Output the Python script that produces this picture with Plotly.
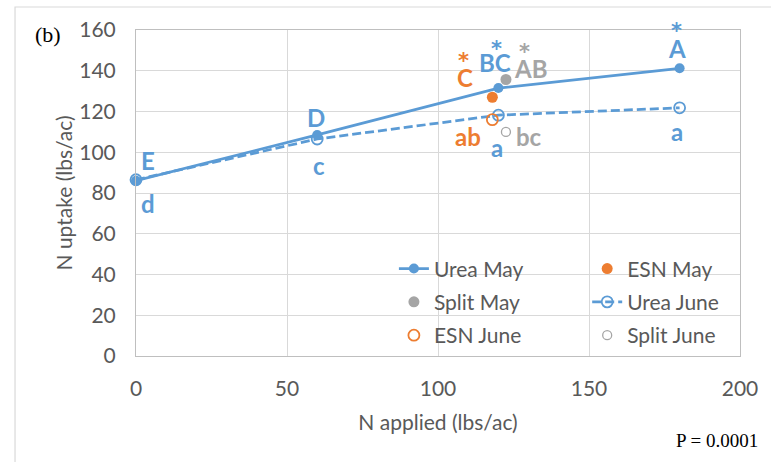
import plotly.graph_objects as go

# ---- data ----
n_rates = [0, 60, 120, 180]
urea_may = [86, 108.5, 131.5, 141.2]
urea_june = [86.5, 106.5, 118.2, 121.8]
esn_may_x, esn_may_y = [118], [127]
split_may_x, split_may_y = [122.5], [135.7]
esn_june_x, esn_june_y = [118], [116]
split_june_x, split_june_y = [122.5], [110]

x_ticks = [0, 50, 100, 150, 200]
y_ticks = [0, 20, 40, 60, 80, 100, 120, 140, 160]

# letter labels: (x, y, text, colour-key)
labels = [
    (4, 96, "E", "blue"), (4, 75, "d", "blue"),
    (59.5, 117, "D", "blue"), (60.5, 93.5, "c", "blue"),
    (119, 144, "BC", "blue"), (119.5, 102.5, "a", "blue"),
    (109, 136.5, "C", "orange"), (110, 107.5, "ab", "orange"),
    (130.5, 141, "AB", "gray"), (130, 107.5, "bc", "gray"),
    (179, 151, "A", "blue"), (179, 110, "a", "blue"),
]
stars = [(119.5, 150.7, "blue"), (108.5, 145, "orange"),
         (128.8, 149.3, "gray"), (179, 159.6, "blue")]

BLUE = "#5B9BD5"
ORANGE = "#ED7D31"
GRAY = "#A5A5A5"
cols = {"blue": BLUE, "orange": ORANGE, "gray": GRAY}
TXT = "#595959"
FONT = "Lato"

fig = go.Figure()
fig.add_trace(go.Scatter(x=n_rates, y=urea_june, name="Urea June", mode="lines+markers",
                         line=dict(color=BLUE, width=2.75, dash="9px,4px"),
                         marker=dict(symbol="circle-open", size=11, color=BLUE, line=dict(width=1.8)),
                         legend="legend2", legendgroup="g4", legendrank=4, cliponaxis=False))
fig.add_trace(go.Scatter(x=n_rates, y=urea_may, name="Urea May", mode="lines+markers",
                         line=dict(color=BLUE, width=2.75),
                         marker=dict(symbol="circle", size=10, color=BLUE),
                         legend="legend", legendgroup="g1", legendrank=1, cliponaxis=False))
fig.add_trace(go.Scatter(x=esn_may_x, y=esn_may_y, name="ESN May", mode="markers",
                         marker=dict(symbol="circle", size=11, color=ORANGE),
                         legend="legend2", legendgroup="g2", legendrank=2))
fig.add_trace(go.Scatter(x=split_may_x, y=split_may_y, name="Split May", mode="markers",
                         marker=dict(symbol="circle", size=11, color=GRAY),
                         legend="legend", legendgroup="g3", legendrank=3))
fig.add_trace(go.Scatter(x=esn_june_x, y=esn_june_y, name="ESN June", mode="markers",
                         marker=dict(symbol="circle-open", size=11, color=ORANGE, line=dict(width=1.8)),
                         legend="legend", legendgroup="g5", legendrank=5))
fig.add_trace(go.Scatter(x=split_june_x, y=split_june_y, name="Split June", mode="markers",
                         marker=dict(symbol="circle-open", size=9, color=GRAY, line=dict(width=1.3)),
                         legend="legend2", legendgroup="g6", legendrank=6))

ann = []
for x, y, t, c in labels:
    ann.append(dict(x=x, y=y, xref="x", yref="y", text=f"<b>{t}</b>", showarrow=False,
                    font=dict(family=FONT, size=24, color=cols[c])))
for x, y, c in stars:
    ann.append(dict(x=x, y=y, xref="x", yref="y", text="<b>*</b>", showarrow=False,
                    font=dict(family="DejaVu Sans", size=21, color=cols[c])))
ann.append(dict(x=-0.146, y=0.985, xref="paper", yref="paper", text="(b)", showarrow=False,
                xanchor="center", yanchor="middle",
                font=dict(family="Liberation Serif", size=22, color="black")))
ann.append(dict(x=1.033, y=-0.258, xref="paper", yref="paper", text="P = 0.0001", showarrow=False,
                xanchor="right", yanchor="middle",
                font=dict(family="Liberation Serif", size=19, color="black")))

legend_common = dict(bgcolor="rgba(0,0,0,0)", font=dict(family=FONT, size=21, color=TXT),
                     yanchor="top", xanchor="left", tracegroupgap=3, itemsizing="trace",
                     traceorder="grouped")

fig.update_layout(
    width=771, height=462,
    margin=dict(l=136, r=31, t=30, b=106, autoexpand=False),
    paper_bgcolor="white", plot_bgcolor="white",
    font=dict(family=FONT, size=21, color=TXT),
    showlegend=True,
    legend=dict(x=0.427, y=0.33, **legend_common),
    legend2=dict(x=0.747, y=0.33, **legend_common),
    annotations=ann,
    shapes=[
        dict(type="rect", xref="paper", yref="paper", x0=-0.2003, x1=2, y0=-1, y1=1.0706,
             line=dict(color="#D9D9D9", width=1.2), fillcolor="rgba(0,0,0,0)", layer="below"),
        dict(type="rect", xref="paper", yref="paper", x0=0.3576, x1=0.998, y0=0.003, y1=0.288,
             line=dict(width=0), fillcolor="white", layer="between"),
    ],
    xaxis=dict(range=[0, 200], tickvals=x_ticks, showgrid=True, gridcolor="#D9D9D9", gridwidth=1,
               showline=True, linecolor="#BFBFBF", linewidth=1, mirror=True, zeroline=False,
               ticks="", tickfont=dict(family=FONT, size=21, color=TXT), ticklabelstandoff=14,
               title=dict(text="N applied (lbs/ac)", font=dict(family=FONT, size=21, color=TXT), standoff=16)),
    yaxis=dict(range=[0, 160], tickvals=y_ticks, showgrid=True, gridcolor="#D9D9D9", gridwidth=1,
               showline=True, linecolor="#BFBFBF", linewidth=1, mirror=True, zeroline=False,
               ticks="", tickfont=dict(family=FONT, size=21, color=TXT), ticklabelstandoff=15,
               title=dict(text="N uptake (lbs/ac)", font=dict(family=FONT, size=21, color=TXT), standoff=0)),
)

fig.write_html("out.html")
